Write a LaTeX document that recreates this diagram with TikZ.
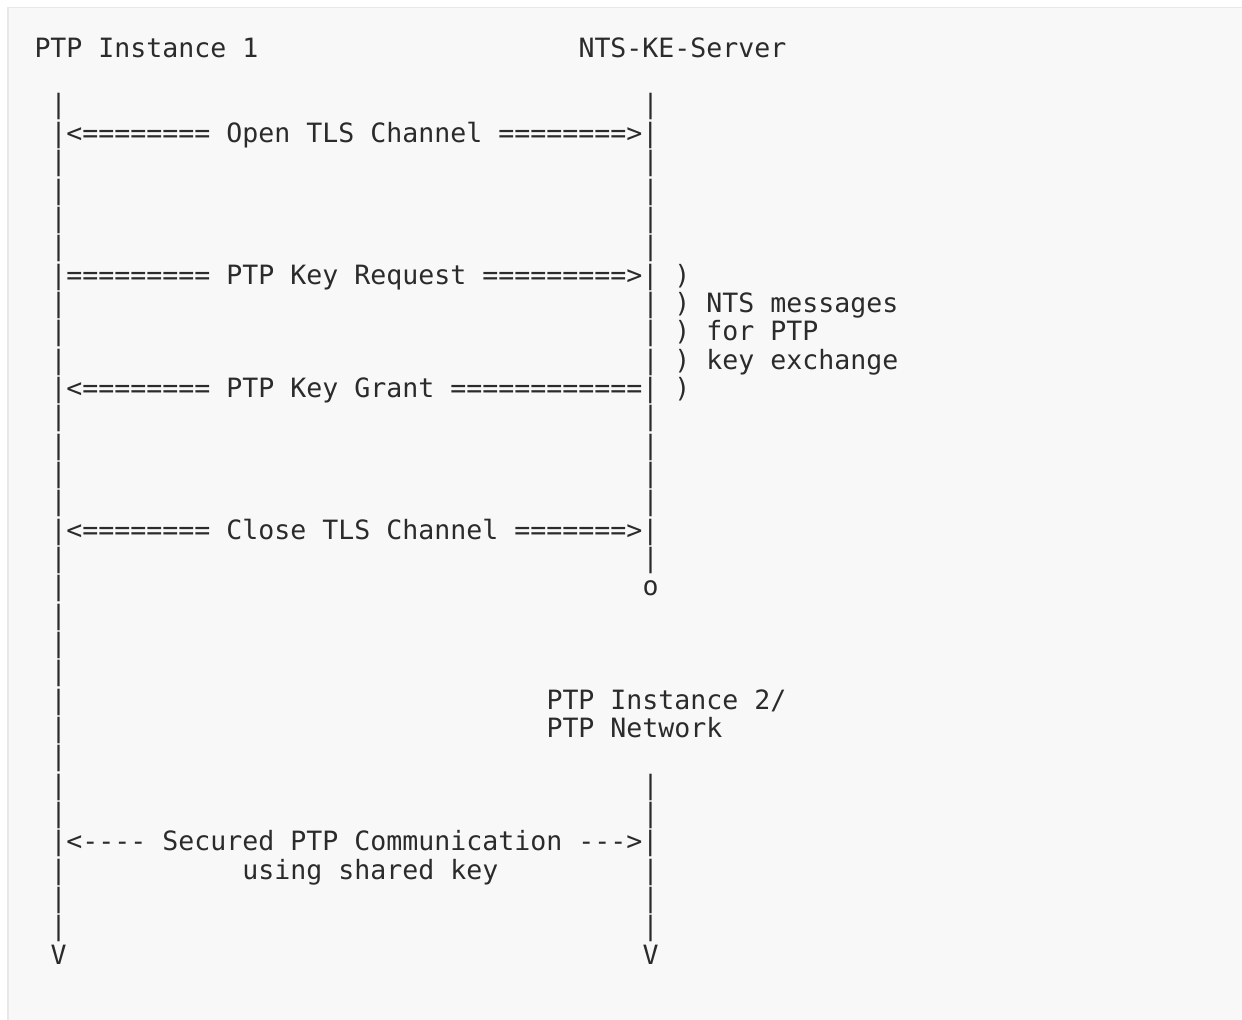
\documentclass[tikz,border=0pt]{standalone}
\usepackage{fontspec}
\setmonofont{DejaVu Sans Mono}
\definecolor{bg}{HTML}{F8F8F8}
\definecolor{bd}{HTML}{E8E8E8}
\definecolor{ink}{HTML}{2B2B2B}
\newlength\cellw
\setlength\cellw{8pt}
\newcommand\gap[1]{\hspace*{#1\cellw}}
\newcommand\row[1]{57.3+28.34*#1}
\begin{document}
\frenchspacing
\begin{tikzpicture}[x=0.5pt,y=-0.5pt,
  asc/.style={anchor=base west, inner sep=0pt, outer sep=0pt, text=ink,
    font=\ttfamily\fontsize{13.288pt}{14pt}\selectfont}]
\useasboundingbox (0,0) rectangle (1242,1019);
\fill[white] (0,0) rectangle (1242,1019);
\draw[bd, line width=0.75pt, fill=bg] (8,7.3) rectangle (1260,1040);
% header (column 0)
\node[asc] (l0) at (34.5,{\row{0}}) {PTP Instance 1\gap{20}NTS-KE-Server};
% remaining lines start at column 1
\node[asc] (l2)  at (50.5,{\row{2}})  {|\gap{36}|};
\node[asc] (l3)  at (50.5,{\row{3}})  {|<======== Open TLS Channel ========>|};
\node[asc] (l4)  at (50.5,{\row{4}})  {|\gap{36}|};
\node[asc] (l5)  at (50.5,{\row{5}})  {|\gap{36}|};
\node[asc] (l6)  at (50.5,{\row{6}})  {|\gap{36}|};
\node[asc] (l7)  at (50.5,{\row{7}})  {|\gap{36}|};
\node[asc] (l8)  at (50.5,{\row{8}})  {|========= PTP Key Request =========>| )};
\node[asc] (l9)  at (50.5,{\row{9}})  {|\gap{36}| ) NTS messages};
\node[asc] (l10) at (50.5,{\row{10}}) {|\gap{36}| ) for PTP};
\node[asc] (l11) at (50.5,{\row{11}}) {|\gap{36}| ) key exchange};
\node[asc] (l12) at (50.5,{\row{12}}) {|<======== PTP Key Grant ============| )};
\node[asc] (l13) at (50.5,{\row{13}}) {|\gap{36}|};
\node[asc] (l14) at (50.5,{\row{14}}) {|\gap{36}|};
\node[asc] (l15) at (50.5,{\row{15}}) {|\gap{36}|};
\node[asc] (l16) at (50.5,{\row{16}}) {|\gap{36}|};
\node[asc] (l17) at (50.5,{\row{17}}) {|<======== Close TLS Channel =======>|};
\node[asc] (l18) at (50.5,{\row{18}}) {|\gap{36}|};
\node[asc] (l19) at (50.5,{\row{19}}) {|\gap{36}o};
\node[asc] (l20) at (50.5,{\row{20}}) {|};
\node[asc] (l21) at (50.5,{\row{21}}) {|};
\node[asc] (l22) at (50.5,{\row{22}}) {|};
\node[asc] (l23) at (50.5,{\row{23}}) {|\gap{30}PTP Instance 2/};
\node[asc] (l24) at (50.5,{\row{24}}) {|\gap{30}PTP Network};
\node[asc] (l25) at (50.5,{\row{25}}) {|};
\node[asc] (l26) at (50.5,{\row{26}}) {|\gap{36}|};
\node[asc] (l27) at (50.5,{\row{27}}) {|\gap{36}|};
\node[asc] (l28) at (50.5,{\row{28}}) {|<---- Secured PTP Communication --->|};
\node[asc] (l29) at (50.5,{\row{29}}) {|\gap{11}using shared key\gap{9}|};
\node[asc] (l30) at (50.5,{\row{30}}) {|\gap{36}|};
\node[asc] (l31) at (50.5,{\row{31}}) {|\gap{36}|};
\node[asc] (l32) at (50.5,{\row{32}}) {V\gap{36}V};
\end{tikzpicture}
\end{document}
